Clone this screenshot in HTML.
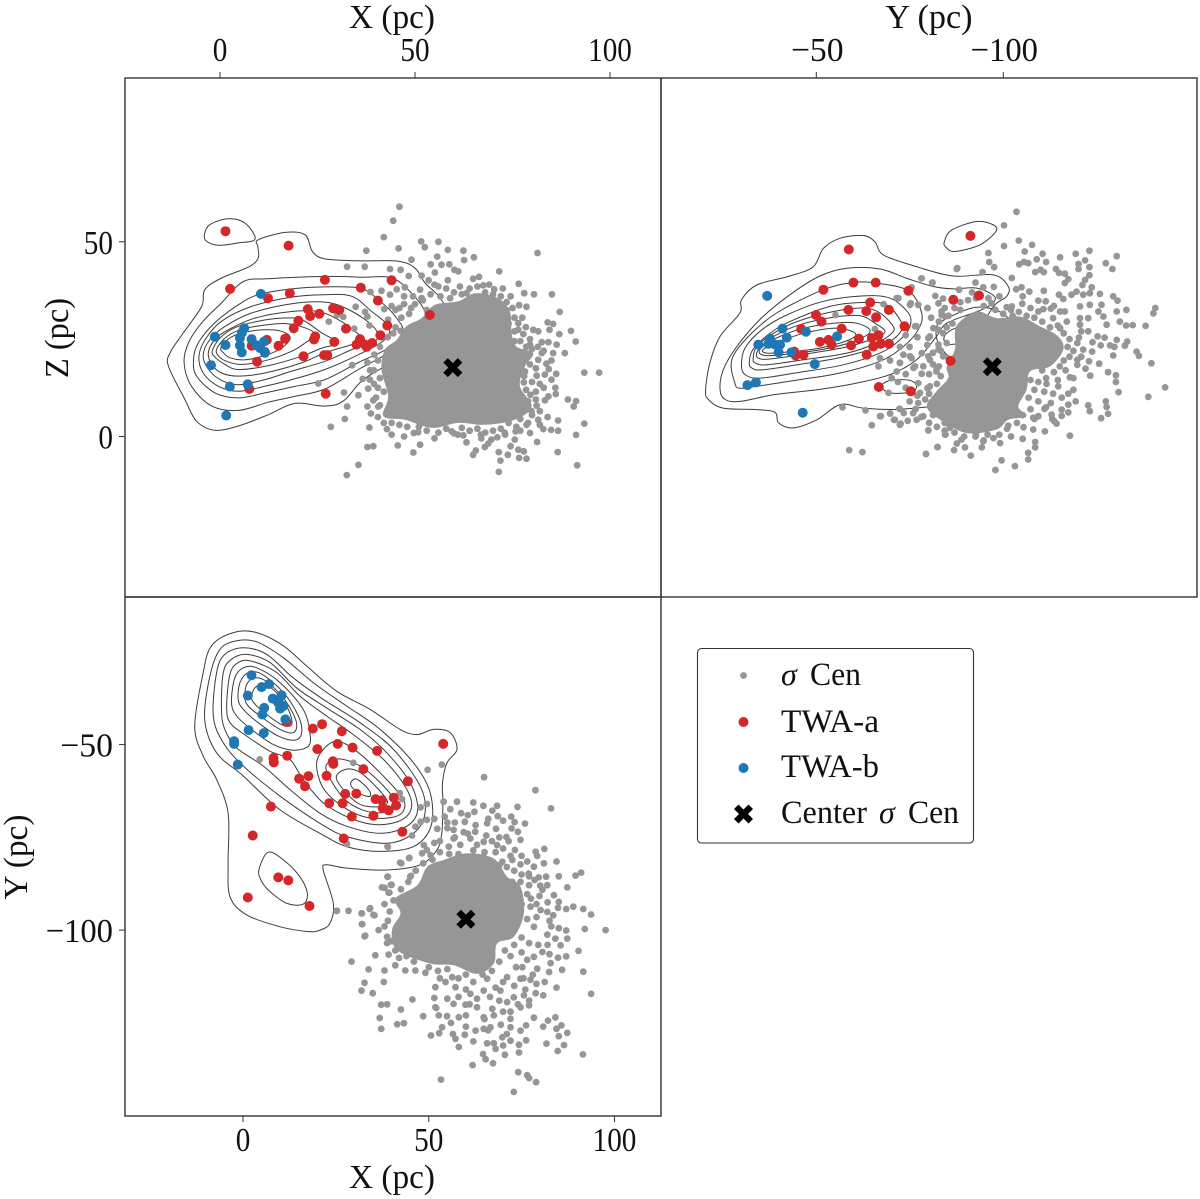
<!DOCTYPE html>
<html lang="en">
<head>
<meta charset="utf-8">
<title>TWA and sigma Cen positions</title>
<style>
html,body{margin:0;padding:0;background:#fff;}
svg{display:block;}
text{font-family:"Liberation Serif","DejaVu Serif",serif;fill:#111;}
</style>
</head>
<body>
<svg id="chart" xmlns="http://www.w3.org/2000/svg" width="1200" height="1199" viewBox="0 0 1200 1199">
  <rect x="0" y="0" width="1200" height="1199" fill="#fff"/>
  <g id="panel-a"></g>
  <g id="panel-b"></g>
  <g id="panel-c"></g>
  <rect x="125" y="78" width="536" height="519" fill="none" stroke="#333" stroke-width="1.4"/>
  <rect x="661" y="78" width="536" height="519" fill="none" stroke="#333" stroke-width="1.4"/>
  <rect x="125" y="597" width="536" height="519" fill="none" stroke="#333" stroke-width="1.4"/>
  <g id="ticks"></g>
  <text x="392" y="28" font-size="34" text-anchor="middle" textLength="86" lengthAdjust="spacingAndGlyphs">X (pc)</text>
  <text x="929" y="28" font-size="34" text-anchor="middle" textLength="87" lengthAdjust="spacingAndGlyphs">Y (pc)</text>
  <text x="392" y="1188" font-size="34" text-anchor="middle" textLength="86" lengthAdjust="spacingAndGlyphs">X (pc)</text>
  <text transform="translate(68,338) rotate(-90)" font-size="34" text-anchor="middle" textLength="80" lengthAdjust="spacingAndGlyphs">Z (pc)</text>
  <text transform="translate(27,857) rotate(-90)" font-size="34" text-anchor="middle" textLength="85" lengthAdjust="spacingAndGlyphs">Y (pc)</text>
  <g>
    <rect x="697.5" y="648.5" width="276" height="194.5" rx="4" fill="#fff" stroke="#333" stroke-width="1.1"/>
    <circle cx="743.5" cy="675.5" r="3.4" fill="#969696"/>
    <circle cx="743.5" cy="722" r="5" fill="#d62728"/>
    <circle cx="743.5" cy="768" r="5" fill="#1f77b4"/>
    <path transform="translate(743.5,814)" d="M-9.5,-5L-5,-9.5L0,-4.5L5,-9.5L9.5,-5L4.5,0L9.5,5L5,9.5L0,4.5L-5,9.5L-9.5,5L-4.5,0Z" fill="#000"/>
    <text x="781" y="685" font-size="32" font-style="italic">σ</text>
    <text x="810" y="685" font-size="33" textLength="51" lengthAdjust="spacingAndGlyphs">Cen</text>
    <text x="781" y="732" font-size="33" textLength="98" lengthAdjust="spacingAndGlyphs">TWA-a</text>
    <text x="781" y="777" font-size="33" textLength="98" lengthAdjust="spacingAndGlyphs">TWA-b</text>
    <text x="781" y="823" font-size="33" textLength="86" lengthAdjust="spacingAndGlyphs">Center</text>
    <text x="879" y="823" font-size="32" font-style="italic">σ</text>
    <text x="908" y="823" font-size="33" textLength="51" lengthAdjust="spacingAndGlyphs">Cen</text>
  </g>
</svg>
<script>
/* Tick values and labels */
const xTicksTop = [0, 50, 100];
const xTickLabelsTop = ['0', '50', '100'];
const yTicksTop = [-50, -100];
const yTickLabelsTop = ['−50', '−100'];
const zTicks = [50, 0];
const zTickLabels = ['50', '0'];
const xTicksBottom = [0, 50, 100];
const xTickLabelsBottom = ['0', '50', '100'];
const yTicksLeft = [-50, -100];
const yTickLabelsLeft = ['−50', '−100'];

/* Panel X-Z: stars as [X, Z] in pc */
const centerXZ = [59.7, 17.7];
const twaAXZ = [[1.4,52.7],[17.6,49],[2.6,37.9],[26.9,40.2],[36.1,38.2],[12.3,35.5],[17.9,36.8],[40.5,34.9],[44,40.1],[22.5,32.7],[29,32.9],[30.6,32.5],[23.1,30.9],[25.5,31.5],[20.1,29.7],[18.9,27.8],[32.3,27.7],[42.9,28.5],[41.1,26],[24.4,25.7],[24.1,24.9],[29.3,24.3],[35.9,25],[35,23.6],[37.2,23.6],[37.6,23],[39,24],[16.7,25.1],[15,23.3],[12,24.8],[8.1,23.3],[11.5,21.7],[9.5,19.2],[21.4,20.6],[26.7,20.9],[27.5,20.9],[7.5,12.2],[27.1,11],[53.8,31.2]];
const twaBXZ = [[10.5,36.6],[-1.3,25.6],[1.4,23.5],[-2.3,18.3],[2.5,12.8],[7.1,13.4],[1.6,5.4],[6.2,27.8],[5.6,26.6],[5.1,25.3],[5.1,23.4],[5.6,21.6],[8.1,25],[9.4,23.4],[11.3,24.4],[10.3,22.7],[11.5,21.5]];
const sigmaCenXZ = [[46,59],[44.4,55.4],[42,51.2],[37.5,47.7],[45.8,48.3],[51.6,50.1],[56,50],[52.5,48.6],[58.4,47.9],[62.4,47.7],[81.4,47.1],[49.1,45.4],[55.7,46.2],[62.6,45.3],[65.1,46],[56.8,44.1],[54,44.2],[58.8,44.2],[32.6,43.6],[37.1,43.6],[43.6,43],[46.3,42.8],[55.1,42.1],[60.1,42.8],[61.1,42.4],[71.6,42.4],[48.4,41.2],[51.7,41.3],[53.5,40.1],[58.4,40.1],[64.9,40.5],[66.4,41],[67.5,38.8],[76.6,39.2],[61.5,38.5],[70.3,37.8],[78,36.8],[80.5,36.5],[85.1,36.5],[47.4,38.3],[51.3,37.7],[45.3,37.8],[38.6,37.1],[41.4,37.4],[43.6,36.4],[47.2,36],[51.7,35.5],[63.2,36.8],[76.7,33.7],[78.6,33.3],[87.1,32],[73.5,32.4],[34.8,33.3],[37.2,32],[37.8,30.8],[42.1,32.7],[45,32.5],[47.2,34],[49,33],[76.5,29.1],[78.4,28.1],[84,29.3],[85.4,28.9],[84.5,27.4],[90,27.1],[87,26.3],[81.6,27],[80.3,27.4],[77.8,26.3],[91.2,24.4],[76.5,27.4],[27.9,29.5],[31.6,30.7],[38.3,28.5],[43.1,30],[44.4,26.5],[46.3,27.1],[34.4,27.7],[30,31.2],[79.5,23.6],[82.5,24.2],[84.2,24.2],[86.3,23.6],[88.4,21.4],[85.4,21.4],[82.5,21.4],[79,20.6],[81.6,19.7],[83.7,18.7],[84.3,17.3],[86.2,16.1],[83.3,15.9],[85,14.6],[81.2,15.6],[77.9,13.9],[78.2,16.7],[93.4,16.4],[97.2,16.4],[79.6,10.7],[86.1,10.9],[83.3,9.3],[84.2,10.3],[89.2,9.5],[91.3,9.1],[90.7,7.7],[81.2,7.9],[79.9,6.5],[84,5],[86.7,4.1],[93.4,3.3],[81.6,4.3],[82.9,1.9],[84.9,1.7],[86.7,1.5],[91.3,0.4],[79.5,0.9],[81.3,-1.4],[86.6,-4],[91.6,-7.4],[78.6,3],[75.6,-0.8],[74.5,-2.5],[76.5,-3.4],[77.9,-3.8],[78.6,-5.7],[76.7,-5.5],[73.8,-4.7],[71.5,-4],[71.9,-6.2],[71.5,-9.1],[64.9,-4.7],[65.6,-3.6],[63.2,-1.5],[67.9,-2.7],[68.8,-1.8],[69.6,-0.8],[71.1,-0.2],[73.1,0.5],[75.8,1.3],[62.4,0.3],[66.9,0.5],[59.4,1.3],[49.7,0.9],[50.8,1.1],[47.2,0],[42.8,1.9],[38.3,2.3],[32,4.5],[28.4,2.5],[32.6,7.7],[31.8,11.3],[35.5,10.6],[38,12.3],[39.3,9.3],[37.8,7.7],[40.6,7.7],[38.7,5.9],[45.6,-2.3],[51.3,-2.1],[49.6,-4.1],[37.8,-2.7],[39.3,-2.5],[35.5,-7.3],[32.5,-9.9],[36.6,14.8],[38.4,14.6],[33.9,18.3],[37.8,19],[39.6,21],[25.2,13.6]];
const sigmaCenEdgeXZ = [[75.5,27],[77,24.5],[78.5,23],[76.5,21.5],[80,22.5],[81.5,23],[83,22],[77,19.5],[79.5,18.5],[81,17.5],[76.5,17],[78,15.5],[80,14],[82,13.5],[76,13],[78.5,12],[81,11.5],[83,12.5],[77,10],[79,9],[81,9.5],[76,8],[78,7],[80,5.5],[82,6.5],[75,6],[77,4.5],[79,3.5],[74,3.5],[76,2.5],[72,2],[70,1.5],[73,1],[68,1],[66,2],[64,1.5],[62,2.2],[60,0.8],[58,2],[56,1],[53,1.5],[51,2.5],[48,2.5],[46,3],[44,3.5],[42,3.5],[40.5,5],[41,8],[42,11.5],[40.5,12.5],[41,15],[39.5,17],[40.5,19.5],[41,23],[43,25.5],[45,28],[46.5,30.5],[48.5,31.5],[50,34],[52,35],[54,36.5],[56.5,36],[58,38],[60,37],[62,36.5],[64,38],[66,38.5],[68,37],[70,36.5],[72,36],[73.5,34.5],[75,33],[75.5,30.5],[53,32.5],[56,38.5],[59,35.5],[65,35],[69,39],[72.5,38],[74.5,36],[74,29],[77.5,30.5],[79.5,25],[75.5,24.5],[85,19.5],[86,12.5],[82,3],[77,1.5],[67,-0.5],[61,0.5],[55,-0.5],[44,0.5],[39.5,13.5],[40,10],[38.5,17],[41.5,25.5],[44,33.5],[46,33],[49.5,36],[55,39]];
const denseCoreXZ = [[42.3,22.3],[45.3,24.8],[47.8,28.3],[51.7,30.4],[55.1,33.8],[61.1,34.7],[65.4,36.8],[71.3,35.5],[74.3,32.1],[74.8,26.5],[76,23.1],[80.3,21.4],[78.2,18],[76.9,12.9],[79.9,7.7],[75.6,4.3],[67.9,3],[61.1,3.5],[54.3,2.2],[47.4,4.3],[41.9,5.2],[43.1,10.3],[41.4,17.1]];
const contoursXZ = [
 [[-4,51.8],[-2.6,54.4],[2.1,55.9],[6.4,54.8],[9,50.7],[4.7,49.7],[-0.4,49.1],[-3.4,50.1]],
 [[9.8,50.5],[16.7,52.4],[21.8,51.8],[23.7,47.5],[26.9,45.6],[35.5,45.1],[45.7,45],[50,43.2],[52.6,39.4],[56.4,35.6],[59,29.6],[52.6,23.2],[42.3,18],[36.3,14.2],[31.6,9.1],[26.9,7.8],[19.2,8.5],[12.4,5.6],[4.7,2.7],[-1.3,1.6],[-6,3.9],[-9,9.5],[-13.2,18],[-12.8,21.5],[-9.4,26.6],[-4.7,33.4],[-3.9,37.7],[0.4,40.7],[7.3,43.5],[9.8,45.8],[9.7,48.8]],
 [[6,39.8],[12.4,40.5],[26.9,41.1],[36.3,40.9],[44,40.7],[49.1,36.8],[52.6,31.7],[50.8,27.4],[43.2,21.5],[35.5,17.2],[26.9,12.2],[19.2,10.3],[12.4,8.8],[4.7,6.7],[-2.1,7.8],[-7.3,12.9],[-9.2,18.9],[-8.1,24],[-4.7,29.2],[0.4,34.3]],
 [[9.8,36.4],[18.4,37.9],[26.9,38.4],[35.9,38.1],[40.6,35.1],[44.9,30.9],[47,26.6],[43.2,22.7],[35.5,19],[26.9,14.6],[18.4,12.7],[11.5,11.2],[4.7,9.9],[-1.3,11.2],[-6,15.5],[-6.8,19.7],[-5.6,24],[-1.3,29.2],[4.7,33.8]],
 [[-5.4,20.6],[-3.8,24.9],[0.4,29.6],[8.1,33.4],[18.4,35.8],[26.9,36.4],[33.8,36],[38.9,32.1],[43.2,28.3],[42.3,24.9],[35.5,21],[26.9,17.2],[18.4,14.6],[11.5,12.9],[4.7,11.6],[-0.4,12.9],[-4.3,16.3]],
 [[-4.3,21],[-2.6,24.9],[1.3,28.3],[8.1,31.7],[18.4,34.1],[26.9,34.5],[32.1,33],[37.2,30],[40.2,27],[39.7,24.4],[33.8,22.3],[26.9,19.3],[18.4,16.8],[11.5,14.6],[4.7,13.3],[0,14.6],[-3.2,17.6]],
 [[-3,21.5],[-1.3,24.9],[2.1,27.4],[9,30.4],[18.4,32.1],[25.2,32.1],[30.3,30],[34.6,27],[36.7,24.9],[33.8,23.6],[26.9,21.5],[20.9,18.9],[11.5,16.3],[4.7,15.5],[0.4,16.3],[-2.1,18.5]],
 [[-2,21.9],[0,25.3],[3.8,27.9],[9.8,29.6],[15.8,30.4],[20.9,30],[26.1,26.6],[30.3,24],[26.1,22.7],[20.9,20.6],[12.4,18.2],[4.7,17.2],[1.3,18.5],[-1.1,20.2]],
 [[-0.9,22.3],[1.3,25.3],[5.1,27.4],[10.7,28.5],[16.7,29],[21.8,27.9],[24.4,26.2],[21.8,24],[18.4,21.9],[12.4,19.7],[5.6,18.5],[1.7,19.3],[-0.3,20.6]],
 [[0.2,22.7],[2.1,25],[5.6,26.6],[11.5,27.4],[15.8,27],[18,25.3],[15.8,22.7],[11.5,20.8],[6.4,19.7],[2.6,20.2],[0.9,21.5]]
];

/* Panel Y-Z: stars as [u, Z]; u is the horizontal reading, converted to Y by yFromReading */
const centerYZ = [95.2, 17.9];
const twaAYZ = [[58.4,48],[51.9,37.7],[59.6,39.5],[65.3,39.5],[73.7,37.4],[63.9,34.4],[68.7,32.5],[58.3,32.5],[62.9,32.2],[65.4,30.6],[50,31.2],[51.4,29.5],[72.7,28.3],[56.6,27.7],[46.2,27.6],[61,25.1],[51,24.3],[53.2,24.8],[54,23.6],[59,23.4],[64.3,25.3],[66,26],[64.7,23.1],[66.6,23.8],[68.7,23.8],[63,21],[44.8,20.8],[46.8,21],[44.4,21.8],[66.1,12.7],[74.3,11.6],[84.5,19.4],[89.6,51.5],[85.2,35.1],[91.8,36.2]];
const twaBYZ = [[37.5,36.1],[41.4,27.7],[47.4,26.9],[55.4,25.7],[42.5,25.4],[35.2,23.6],[38.2,25.1],[37.8,23.8],[39.5,23.6],[40.8,23.6],[40.4,21.6],[43.7,21.6],[49.7,18.6],[32.4,13.2],[34.6,13.9],[46.6,6.1]];
const sigmaCenYZ = [[101.4,57.7],[98.2,54.2],[102,50.3],[98.2,48.9],[105.4,49.2],[103.5,47.5],[94.2,47.1],[108.1,46.9],[112.6,46],[116.6,46.9],[120.1,47.7],[127.1,46.3],[124.3,44.5],[126,43],[119,45.2],[117.3,44.3],[120.1,43.5],[117.3,43],[106.6,45.5],[109,44.8],[103.3,44.8],[102.1,44.2],[104.4,44.5],[94.4,44.8],[95.7,43.5],[86.2,43.2],[92.7,42.2],[106.2,42.2],[107.6,42.8],[108.4,42.2],[111.5,43],[112.3,42],[113.8,41.8],[114.7,40.4],[113.8,39.4],[120.1,41.4],[119,40.2],[118.3,38.9],[100.2,40.7],[77,40.6],[79.9,39.5],[90.9,39.5],[95.6,38.4],[86.7,37.7],[92.9,38.3],[101.3,37.8],[102.7,38.3],[104.7,37.2],[108.4,37.4],[112.3,36.4],[113.4,35.3],[120.7,38.3],[116.8,37.2],[115.5,36.4],[118.5,36.4],[122.8,36.6],[126.2,36],[127.3,34.9],[120.2,36.8],[107,34.9],[108.9,34.7],[102.9,34.1],[80.6,36.1],[82.6,35.4],[78.6,33],[81.4,34.2],[82.2,32.1],[83.1,30.8],[94.2,35.5],[95,34.2],[98.9,33.2],[100.2,33.4],[108.3,32.7],[107,32.1],[110.2,32.8],[113.8,32.1],[112.6,32.1],[117.7,33.4],[120.2,33.8],[123.2,33.8],[122.4,32.1],[127.1,32.1],[129.6,32.5],[137,33],[136.5,31.6],[100.4,31],[110.8,30.4],[114.3,29.5],[117.7,30.4],[119.8,30.4],[123.7,30.8],[127.9,29.5],[129.5,28.5],[131.2,28.6],[134.5,28.4],[117.7,28.7],[119.8,27],[124.5,28.7],[112.6,27.8],[117.4,25.4],[122.2,25.7],[124,25.4],[127.1,24.8],[129.8,24.4],[129.2,23.3],[120.9,24.2],[123,23.4],[125.4,23.4],[126.5,23],[132.2,21.8],[132.8,20.7],[126.2,20.8],[118.5,22.3],[120.8,21.8],[117,19.7],[117,18.4],[120,19.3],[122.6,18.7],[119.1,17.4],[124.9,16.5],[126.9,15.7],[126.9,14],[120.3,15.6],[115.1,15.2],[136,18.8],[139.5,12.6],[135.2,10.2],[127.6,11.4],[116.6,9],[124.3,9],[119.8,8],[124.5,7.6],[120.2,6.5],[124.9,5.8],[123.1,4.7],[114.7,8.2],[113,6.9],[114.7,6.2],[113,5.3],[110.4,5.6],[110.6,4.5],[111.7,3.3],[107,5.2],[105.7,4.8],[115.1,0.2],[108.6,7.1],[110.2,8.6],[109.1,13.5],[112.1,12.9],[114.7,11],[110.8,11],[108.7,1.3],[105.7,1.8],[103.2,2.4],[99.3,2.8],[103,-0.6],[106.2,-1.4],[106.2,-2.8],[104.4,-4.2],[104.4,-5.9],[101,-7.6],[97.6,-6.1],[96,-8.6],[97.2,-1.7],[95.5,-0.4],[92.5,-2.8],[92.9,-1.2],[90.9,0],[89.7,-4.9],[88.2,-2.8],[85.4,-3.5],[86.1,-1.8],[87.3,-0.8],[81.2,-2.7],[78.2,-4.5],[78.8,1.6],[83.1,0.5],[84.3,2.2],[71.5,3],[70.2,4.3],[74.9,6],[75.8,4.3],[71.4,7.1],[69,5.9],[66.4,5.2],[80.9,16.7],[78.6,12.4],[76.2,13.7],[77.1,16.1],[75.4,18],[71.5,18.9],[74.5,20.1],[72.4,21],[77.1,21.4],[79.2,19.7],[82.6,20.6],[78.8,25.3],[81.4,23.6],[82.6,26.5],[80.1,27.8],[75.4,28.3],[76.2,33.8],[74.1,33.8],[71.1,35.5],[56.8,7.5],[62.7,6.7],[66.6,5.2],[64.3,2.9],[69,5.9],[71.4,7.1],[70,4.3],[71.7,3.3],[58.5,-3.5],[61.9,-4],[78.2,-4.5],[81.1,-2.7],[55,31.2],[67.3,34],[70.7,35.5],[74.3,34.2],[76.2,33.8],[78.6,33],[77.1,40.6],[79.8,39.5],[86.1,43],[74.5,38.3],[65.1,27.6],[66.4,20.1],[66,18],[69,19.5],[71.5,18.9],[70.7,16.7],[74.1,20.6],[75,17.6],[69.4,15],[75.8,28.3],[79.2,25.7],[81.4,27.4],[82.2,31.2],[77.5,18],[80.9,17.1],[78.8,20.6],[81.4,22.3],[76.7,11.2],[79.2,12.9],[83.5,12],[76.2,8.6],[77.5,5.2],[80.1,7.7],[83.5,3.5],[78.8,1.6],[83.2,0.5],[68.6,11.2]];
const sigmaCenEdgeYZ = [[84,31],[85.5,33],[87,34.5],[89,35],[91,35.5],[93,33.5],[96,32.5],[98,31.5],[100,32.5],[102,32],[104,31],[106,30.5],[108,29.5],[110,28],[112,28.5],[113.5,26.5],[115,25],[114.5,23],[116,22],[115,20.5],[113.5,19.5],[112.5,18],[111,16.5],[114,17],[116,15],[112,14.5],[109,15],[107,14],[105,14.5],[106,12],[108.5,11.5],[104.5,10],[107,9],[109,7.5],[105,7],[103,5.5],[106,4.5],[101.5,3.5],[99,2],[97,0.5],[94,0.5],[91,0.5],[88,0],[85.5,1],[83,1.5],[81,2.5],[79,3.5],[77,5],[75.5,7],[78,9.5],[76,10.5],[74,9],[72.5,6],[73.5,4],[80.5,9.5],[79,11],[81,13.5],[82,15.5],[80,18.5],[79,16],[81.5,18],[82,22],[83.5,24],[80,21.5],[78.5,23.5],[83.5,28],[81.5,29.5],[79.5,30.5],[83,33],[85,29],[84,20],[76,25.5],[74,23],[73,26],[71.5,23],[73,16],[71,14],[73,12.5],[117,24],[118,27],[111,33.5],[105,33],[103,36],[97,36],[90,37],[87,32.5],[110,20],[108,17],[103,15],[102,12.5],[118,20.5],[116,12],[113,10],[111,4],[100,0],[93,-1],[83,3.5],[80,5.5],[82,6.5],[84,4.5]];
const denseCoreYZ = [[86.5,29.1],[91.2,32.1],[96.3,30.4],[102.3,30.8],[107.4,28.3],[112.1,25.7],[113.4,22.3],[110,18],[104.9,16.7],[104,12],[101.9,7.7],[104,5.2],[99.3,4.3],[96.3,1.8],[88.6,0.9],[81.8,4.3],[78.4,7.7],[80.9,11.6],[83.9,15],[83.5,18],[85.6,22.3],[85.6,26.5]];
const contoursYZ = [
 [[82.9,50],[84.8,53],[91.2,55.2],[95.5,54.3],[96.1,52.6],[92,49.2],[85.6,47.5],[83.3,48.6]],
 [[21.7,12],[22.8,18.9],[25.4,25.7],[30.5,31.7],[30.9,35.1],[34.8,38.9],[43.3,41.2],[49.3,43.6],[51.9,48.3],[56.2,50.9],[62.1,51.6],[65.1,50],[67.3,46.6],[75.8,43.6],[85.2,41.2],[95.5,41.5],[99.3,38.5],[98.9,36],[95.9,33.8],[92.9,29.1],[90.3,23.1],[86.1,12],[84.4,8.6],[71.5,7],[62.1,7.3],[56.2,8.2],[50.2,4.3],[44.2,2.2],[40.4,3.5],[39.5,6.2],[34.8,6.9],[26.2,7.3],[22.4,9.5]],
 [[25.4,12],[26.2,17.1],[29.7,23.1],[35.6,30],[43.3,36.4],[51,41.2],[57.9,43.2],[66.4,43],[73.3,40.6],[80.1,38.5],[85.2,37.9],[91.2,38.1],[95.9,35.8],[94.2,33.4],[90.3,31.7],[83.5,29.1],[80.9,25.7],[75.8,19.7],[69,15.9],[60.4,13.7],[50.2,12],[39.1,10.7],[30.5,9],[26.7,9.5]],
 [[29.2,13.7],[28.4,19.7],[32.7,25.7],[39.9,31.7],[51.9,37.7],[59.6,39.5],[65.3,39.4],[73.7,37.4],[77.1,31.7],[76.2,27.4],[72.4,23.1],[66.4,19.3],[56.2,16.3],[45.9,14.6],[34.8,12.9],[30.5,12.4]],
 [[30.9,18.4],[31.8,22.7],[36.1,27.4],[42.5,31.2],[51.9,34.7],[62.1,36.1],[69,35.5],[73.7,31.7],[74.1,28.3],[71.5,24.8],[66.4,21.4],[57,18.4],[45.9,16.5],[35.7,15],[31.8,15.9]],
 [[32.9,18.9],[33.8,22.3],[38.2,26.5],[43.3,29.5],[53.6,33.4],[62.1,34.4],[68.1,33.8],[71.5,30],[72,27.4],[69,24.4],[63.9,22.3],[55.3,20.1],[45.1,18.4],[36.1,17.1],[33.5,17.6]],
 [[33.9,20.1],[34.8,23.1],[39.1,26.5],[45.1,29.5],[54.5,32.1],[62.1,33],[66.4,31.7],[69.8,28.3],[69.4,26.5],[65.6,24],[57.9,21.4],[46.8,19.7],[37.4,18.4],[34.4,18.9]],
 [[34.8,21.4],[36.1,23.3],[39.9,26.1],[45.9,28.7],[54.5,30.6],[61.3,31],[65.1,29.1],[67.7,27],[65.1,25.3],[57.9,23],[47.6,21.2],[38.2,19.9],[35.2,20.1]],
 [[35.6,22.3],[39.9,25.3],[46.8,27.8],[54.5,29.1],[60.4,29.1],[63.9,27],[59.6,24.4],[51.9,22.4],[43.3,21.2],[36.9,20.8]],
 [[36.5,22.4],[40.8,24.4],[46.8,26.5],[54.5,27.8],[59.2,27],[60,25.7],[56.2,24],[49.3,22.4],[42.5,21.7],[37.4,21.4]],
 [[66.8,12.9],[69,14.4],[74.1,14.4],[75.8,12.9],[74.3,11.4],[69,11.2]],
 [[80.9,27.8],[82.6,29.8],[91.2,33.2],[98.9,30.8],[102.3,23.1],[94.6,15.4],[85.2,19.7],[81.4,24]],
 [[82.8,25.3],[84.8,27.4],[91.2,29.5],[97.2,28.3],[99.7,23.1],[94.6,18],[86.9,23.3],[83.9,23.6]]
];

/* Panel X-Y: stars as [X, Y] in pc */
const centerXY = [60, -97.1];
const twaAXY = [[53.9,-49.8],[21.3,-44.5],[18.8,-45.7],[26.6,-46.4],[25.5,-49.8],[29.5,-50.8],[36.1,-51.7],[20,-51.2],[11.9,-53],[8.2,-53.6],[8.3,-54.8],[24.2,-54.5],[24.3,-55.2],[32.4,-56.6],[22.5,-58.4],[17.6,-58.5],[15.1,-59.2],[16.7,-61.2],[44.4,-59.9],[27.5,-63.3],[30.5,-63.2],[26.8,-65.8],[23.2,-65.8],[35.7,-64.7],[37.4,-65],[40.6,-64.3],[41.2,-66.4],[37.6,-67.1],[39.2,-67.7],[29.3,-69.4],[35.1,-69.2],[42.9,-73.5],[27.1,-75.3],[7.5,-66.7],[2.6,-74.5],[9.5,-85.8],[12.2,-86.6],[1.3,-91.2],[17.9,-93.5],[11.7,-43.9]];
const twaBXY = [[2.3,-31.3],[5,-34.5],[7,-33.7],[1.3,-36.8],[10.4,-36.7],[8,-37.6],[9.5,-38.7],[10.9,-39.6],[10,-40.3],[5.7,-40.1],[5.2,-41.9],[11.4,-43.2],[1.5,-46.1],[5.6,-46.9],[-2.4,-49.1],[-2.4,-49.8],[-1.4,-55.4]];
const sigmaCenXY = [[64.9,-58.8],[78.7,-62.3],[82.9,-67.2],[73.9,-66.8],[68.4,-66.5],[68.6,-69.3],[67.1,-67.8],[64.7,-66.5],[62,-65.6],[62.3,-68.1],[57.6,-65.4],[55.8,-67.4],[54,-65.4],[58.7,-68.5],[59.7,-70.8],[54.3,-69.4],[57,-71],[62.6,-71.7],[65.7,-71.2],[68.1,-72.7],[72.2,-69.4],[73.1,-70.9],[75.9,-71.3],[72.3,-72.6],[70.9,-74.9],[56.7,-73],[59.4,-73.6],[74.7,-75.7],[73.2,-78.4],[81.1,-78.1],[78.8,-78.9],[79.2,-80],[84.4,-81.5],[81,-82],[78.3,-82.9],[74.7,-82.3],[72.5,-81.1],[69.8,-81.6],[89.5,-85.3],[91,-84.5],[85,-85.5],[81.6,-85.6],[79.6,-85.8],[76.9,-84.8],[87.3,-88.5],[81.9,-87.9],[80.6,-89.1],[83.7,-90.6],[85,-92.4],[77,-87.9],[74.7,-87],[76.5,-90.3],[79.8,-90.8],[77.4,-93.7],[80.1,-94.6],[81.9,-95.1],[83.5,-96],[84.8,-94],[87,-94.3],[88.9,-93.7],[91.6,-94.3],[93.7,-95.8],[97.6,-100],[92,-99.7],[87,-100.1],[81.9,-101.2],[78.3,-99.1],[87.3,-102.3],[84.1,-102.3],[85.5,-104.1],[90.3,-105.6],[87,-107.1],[84.8,-107.4],[82.8,-108.9],[80.6,-105.9],[78.3,-107.2],[79.2,-110.4],[82.4,-111.3],[85.9,-110.7],[91.6,-111.2],[84.4,-115.5],[93.7,-117.2],[81.2,-114],[80.8,-117.6],[78.8,-117],[77,-119],[75.6,-117.6],[72.9,-118.1],[74.7,-113.1],[77.4,-113.4],[75.2,-110],[77,-120.3],[74.7,-120.8],[78.3,-123.6],[84.1,-123.5],[82.1,-124.4],[80.8,-126],[84.4,-126.6],[85.7,-125.7],[87.3,-127.7],[85,-128.6],[86.4,-131],[84.7,-132.6],[81.7,-130.6],[91.5,-133.5],[76.2,-125.7],[74.7,-127.1],[76.2,-129.7],[74.3,-130.9],[74.3,-133],[72,-129.8],[69.8,-128.9],[70,-131.1],[70.5,-133.6],[67.5,-130.5],[65.7,-130.5],[64.6,-133.4],[65.3,-134.8],[67.3,-135.9],[61.8,-136.4],[74.1,-138.3],[76.5,-139.1],[77,-139.9],[78.9,-141],[72.9,-143.6],[53.3,-140.3],[58.1,-131.5],[57.2,-129.3],[59.7,-128.2],[56.5,-128],[50.6,-128.4],[52.8,-127.8],[53.6,-126.2],[62.6,-127.1],[64.8,-126.6],[66.6,-126.2],[69.4,-125.5],[72,-126.2],[72,-123.9],[64.8,-123.5],[60,-123],[58.1,-123.5],[54.9,-123.2],[52.7,-123],[51.8,-120.8],[51.5,-118.3],[48.5,-123.2],[43.3,-125.1],[41.5,-125.4],[37.2,-126.6],[36.8,-123.7],[42.5,-121.4],[45.6,-118.7],[38.8,-120],[37.2,-120.1],[34.9,-117],[31.9,-116.3],[32.7,-114.2],[37.9,-114],[38.1,-110.9],[33.8,-110.6],[29.2,-108.5],[35.6,-106.8],[39.2,-106.6],[41,-109.5],[43.7,-110.9],[46.4,-110.9],[49.1,-111.5],[51.8,-115.4],[54.5,-114],[57.2,-115.4],[56.3,-112.7],[59.9,-120.1],[56.7,-119.9],[63,-120.8],[67.1,-121.2],[61.2,-117.2],[64.8,-116.3],[69.3,-116.3],[71.1,-119.4],[65.7,-113.1],[71.1,-112.7],[32.7,-101.7],[36.5,-100],[32,-98.4],[38.1,-99],[38.8,-101.8],[38.8,-103.5],[31.9,-95.5],[34.1,-94.3],[35.4,-96],[28.4,-94.8],[25.3,-94.8],[38.1,-93],[38.1,-88.6],[39.4,-89.9],[40,-87.8],[39,-85.6],[45.2,-85.4],[42.6,-82],[44.7,-80.6],[39,-77.6],[28,-76.8],[47.8,-66.9],[49.5,-66],[46.4,-72.1],[47.8,-70.8],[49.5,-70.3],[51.5,-70],[52.3,-72.7],[45.5,-74.5],[48.7,-77.1],[49.5,-78.4],[48.2,-79.3],[50.5,-79.8],[55.4,-77.5],[56.7,-75.3],[61.2,-75.3],[64.8,-76.2],[68.4,-77.1],[42.2,-63.1],[42.8,-64.7],[49.7,-56.8],[4.5,-54],[29.7,-54.9],[53.5,-55.4],[27.9,-76.7],[38.9,-77.5],[42.3,-81.8],[44.8,-80.5],[45,-85.6],[38.9,-85.6],[37.4,-88.5],[39.8,-87.8],[39.2,-89.9],[25.2,-94.8],[32,-95.5],[34.2,-94.1],[35.1,-95.9],[32.1,-98.4],[32.9,-101.5]];
const sigmaCenEdgeXY = [[55,-72.5],[57,-75],[58.5,-77],[60.5,-74],[62.5,-73.5],[63,-77],[65.5,-74.5],[67,-76],[69,-75],[70,-78],[71.5,-76],[72,-80],[68,-79],[65,-79],[62,-78.5],[58,-79.5],[55.5,-79.5],[53,-76],[53,-79],[51.5,-76.5],[51,-81],[48.5,-82],[46.5,-84],[44.5,-87],[42.5,-89],[40.5,-92],[39.5,-95],[39,-97.5],[40,-103],[41,-105.5],[42,-107.5],[44,-107],[46,-108.5],[47.5,-106.5],[50,-110],[52.5,-111],[55,-110.5],[53,-113],[58,-113],[60,-112],[62,-114],[64.5,-112],[67,-111],[69,-108.5],[70.5,-105.5],[72,-107],[73,-104],[75,-102],[77,-103.5],[75,-106],[73.5,-110],[70,-114],[68,-115.5],[66.5,-118],[63,-118.5],[60,-116],[58,-118],[55,-118.5],[52,-121],[61,-120],[65,-124],[67.5,-123],[70,-122],[73,-115],[75.5,-113],[78,-112],[76.5,-108],[79.5,-104],[82,-104],[83,-99],[79,-96.5],[76.5,-97],[75,-93],[77.5,-91.5],[79,-93],[77,-85.5],[75,-85],[73,-84],[71,-83],[69,-82.5],[72.5,-87],[82,-92.5],[80,-88],[78.5,-86.5],[75,-80],[76.5,-81.5],[74,-73.5],[70,-70.5],[66,-70],[60.5,-69],[55,-71],[82.5,-106.5],[85,-99.5],[82.5,-97.5],[74,-120],[69,-119],[72,-122],[76,-116],[79,-114.5],[66,-127],[71,-128],[60,-126],[56,-125],[68,-132],[62,-130]];
const denseCoreXY = [[41,-91.5],[46.9,-87.9],[49.6,-82.9],[54,-81.1],[60.3,-79.3],[67.5,-80.7],[71.1,-85.6],[74.7,-88.3],[75.6,-95.5],[72.9,-101.8],[68.4,-103.6],[67.5,-109],[63,-111.8],[56.7,-109.5],[50.4,-109],[41.5,-105.4],[40.1,-100],[42.4,-95.5]];
const contoursXY = [
 [[4.4,-83.3],[6.8,-79],[10.9,-81.1],[15.3,-85.6],[17.3,-90.1],[16.2,-93],[11.8,-92.8],[6.8,-89.2],[4.6,-86]],
 [[-13,-45],[-10.7,-30.6],[-8.5,-23.4],[-2.6,-19.8],[3.7,-19.8],[10.9,-23.4],[17.1,-28.8],[25.2,-35.6],[34.2,-40.5],[42.3,-45.9],[46.8,-47.3],[51.3,-45.9],[55.8,-46.8],[57.6,-51.3],[54.9,-54.9],[53.7,-60.3],[53.8,-65.7],[53.5,-73.9],[52.2,-78.4],[47.7,-82.4],[38.7,-83.8],[27.9,-83.3],[22.5,-82.4],[21.6,-83.8],[24.3,-92.8],[23.4,-98.2],[20.7,-100],[17.6,-100.4],[10,-99.1],[1,-95.9],[-3.5,-91],[-4,-82],[-4,-68.5],[-7.1,-59.4],[-10.7,-53.1]],
 [[-10.3,-43.2],[-8.9,-31.5],[-6.2,-24.3],[-1.7,-22],[3.7,-22.3],[10.9,-26.6],[18.9,-33.3],[27.9,-39.6],[36.9,-45.9],[45.9,-54.9],[50.4,-63],[50.6,-72],[45.9,-77.5],[36.9,-78.8],[27.9,-77.5],[20.7,-73.9],[10,-67.6],[0.1,-58.5],[-7.1,-52.2]],
 [[-8,-42.3],[-7.1,-30.6],[-4.9,-25.7],[0.1,-23.9],[6.4,-25.7],[13.5,-32],[21.6,-37.8],[31.5,-44.1],[40.5,-51.3],[47.7,-61.2],[49,-68.5],[45.9,-73.9],[38.7,-76.6],[27.9,-74.8],[20.7,-71.2],[10,-63.9],[0.1,-55.8],[-5.3,-49.5]],
 [[-5.8,-40.5],[-5.3,-30.6],[-3.1,-27],[1,-25.7],[7.3,-27.9],[14.4,-34.7],[22.5,-40.1],[31.5,-45.9],[38.7,-52.2],[45,-60.3],[47,-67.6],[44.1,-72],[36.9,-73.9],[27.9,-72],[20.7,-68.5],[12.6,-62.1],[5.5,-55.8],[-1.7,-50.9],[-4.9,-45.9]],
 [[-4.4,-39.6],[-3.5,-31],[-1.3,-27.9],[2.3,-27.5],[9.1,-30.6],[15.3,-36.9],[22.5,-42.3],[29.7,-47.3],[37.8,-54],[43.6,-61.2],[45.4,-66.6],[42.7,-70.3],[36,-71.6],[28.8,-69.8],[21.6,-65.7],[16.2,-59.4],[12.6,-54],[7.3,-51.8],[1,-47.7],[-3.5,-44.1]],
 [[-3.1,-38.7],[-2.2,-32],[0.1,-29.3],[3.7,-29.3],[10,-33.3],[16.2,-40.5],[18,-46.8],[17.6,-50.4],[13.5,-51.5],[8.2,-50],[2.3,-45.9],[-1.7,-42.3]],
 [[-1.3,-37.8],[-0.8,-33.3],[1.4,-30.6],[5,-31],[10.9,-36],[14.9,-42.3],[15.8,-46.8],[14,-48.8],[9.5,-47.7],[4.1,-44.1],[0.1,-40.5]],
 [[0.5,-37.4],[1,-33.8],[3.2,-32],[6.8,-33.3],[11.8,-38.7],[14.4,-44.1],[13.5,-46.8],[10,-45.9],[4.6,-42.3],[1.4,-39.6]],
 [[2.3,-37.4],[3.2,-34.7],[5.5,-33.8],[8.6,-35.6],[12.2,-40.5],[13.1,-44.6],[10.4,-44.6],[6.4,-41.9],[3.5,-39.4]],
 [[19.8,-55.8],[21.2,-51.8],[25.2,-49.1],[30.6,-51.8],[37.8,-58.5],[43.2,-64.8],[42.7,-68.5],[38.7,-69.8],[32.4,-69.4],[26.1,-66.2],[21.6,-61.7]],
 [[22.5,-57.2],[23.4,-54.5],[27,-54],[32.4,-56.3],[38.7,-62.1],[41,-66.2],[37.8,-68.3],[32.4,-67.7],[27,-64.4]],
 [[25.2,-59.4],[27.5,-56.7],[31.5,-57.5],[36.5,-62.1],[38.9,-65.6],[36,-66.8],[30.6,-65.6]],
 [[29,-60.3],[30.6,-59.3],[33.8,-62.1],[34.2,-63.9],[32,-63.5],[29.7,-61.9]]
];

/* Axis functions: data value to pixel */
const xTop = x => 220 + 3.9 * x;
const zAxis = z => 436.5 - 3.895 * z;
const yTop = y => 629.3 - 3.74 * y;
const yFromReading = u => -(1.0428 * u - 2.22);
const xBottom = x => 243 + 3.715 * x;
const yLeft = y => 744.6 + (-50 - y) * 3.71;

const NS = 'http://www.w3.org/2000/svg';
const GREY = '#969696', RED = '#d62728', BLUE = '#1f77b4';
const X_MARK = 'M-9.5,-5L-5,-9.5L0,-4.5L5,-9.5L9.5,-5L4.5,0L9.5,5L5,9.5L0,4.5L-5,9.5L-9.5,5L-4.5,0Z';

function smoothClosed(pts) {
  const n = pts.length;
  let d = 'M' + pts[0][0].toFixed(1) + ',' + pts[0][1].toFixed(1);
  for (let i = 0; i < n; i++) {
    const p0 = pts[(i - 1 + n) % n], p1 = pts[i], p2 = pts[(i + 1) % n], p3 = pts[(i + 2) % n];
    const c1x = p1[0] + (p2[0] - p0[0]) / 6, c1y = p1[1] + (p2[1] - p0[1]) / 6;
    const c2x = p2[0] - (p3[0] - p1[0]) / 6, c2y = p2[1] - (p3[1] - p1[1]) / 6;
    d += 'C' + c1x.toFixed(1) + ',' + c1y.toFixed(1) + ' ' + c2x.toFixed(1) + ',' + c2y.toFixed(1) + ' ' + p2[0].toFixed(1) + ',' + p2[1].toFixed(1);
  }
  return d + 'Z';
}

function drawContour(parent, pts) {
  const el = document.createElementNS(NS, 'path');
  
  
  el.setAttribute('d', smoothClosed(pts));
  el.setAttribute('fill', 'none');
  el.setAttribute('stroke', '#3c3c3c');
  el.setAttribute('stroke-width', '1');
  parent.appendChild(el);
}

function drawCore(parent, pts) {
  const el = document.createElementNS(NS, 'path');
  
  
  el.setAttribute('d', smoothClosed(pts));
  el.setAttribute('fill', GREY);
  parent.appendChild(el);
}

function drawDot(parent, cx, cy, r, fill, name) {
  const el = document.createElementNS(NS, 'circle');
  
  
  el.setAttribute('cx', cx.toFixed(1));
  el.setAttribute('cy', cy.toFixed(1));
  el.setAttribute('r', r);
  el.setAttribute('fill', fill);
  parent.appendChild(el);
}

function drawCenter(parent, cx, cy) {
  const el = document.createElementNS(NS, 'path');
  
  
  el.setAttribute('d', X_MARK);
  el.setAttribute('transform', 'translate(' + cx.toFixed(1) + ',' + cy.toFixed(1) + ')');
  el.setAttribute('fill', '#000');
  parent.appendChild(el);
}

function drawPanel(id, fx, fy, contours, core, sigma, sigmaEdge, twaA, twaB, center) {
  const g = document.getElementById(id);
  const toPx = p => [fx(p[0]), fy(p[1])];
  contours.forEach(c => drawContour(g, c.map(toPx)));
  drawCore(g, core.map(toPx));
  sigma.concat(sigmaEdge).forEach(p => drawDot(g, fx(p[0]), fy(p[1]), 3.4, GREY, 'sigma-cen-point'));
  twaA.forEach(p => drawDot(g, fx(p[0]), fy(p[1]), 5, RED, 'twa-a-point'));
  twaB.forEach(p => drawDot(g, fx(p[0]), fy(p[1]), 5, BLUE, 'twa-b-point'));
  drawCenter(g, fx(center[0]), fy(center[1]));
}

drawPanel('panel-a', xTop, zAxis, contoursXZ, denseCoreXZ, sigmaCenXZ, sigmaCenEdgeXZ, twaAXZ, twaBXZ, centerXZ);
drawPanel('panel-b', u => yTop(yFromReading(u)), zAxis, contoursYZ, denseCoreYZ, sigmaCenYZ, sigmaCenEdgeYZ, twaAYZ, twaBYZ, centerYZ);
drawPanel('panel-c', xBottom, yLeft, contoursXY, denseCoreXY, sigmaCenXY, sigmaCenEdgeXY, twaAXY, twaBXY, centerXY);

const tickLayer = document.getElementById('ticks');

function drawTickLine(x1, y1, x2, y2) {
  const el = document.createElementNS(NS, 'line');
  
  
  el.setAttribute('x1', x1);
  el.setAttribute('y1', y1);
  el.setAttribute('x2', x2);
  el.setAttribute('y2', y2);
  el.setAttribute('stroke', '#333');
  el.setAttribute('stroke-width', '1');
  tickLayer.appendChild(el);
}

function drawTickLabel(label, x, y, anchor) {
  const el = document.createElementNS(NS, 'text');
  
  
  el.setAttribute('x', x);
  el.setAttribute('y', y);
  el.setAttribute('font-size', '34');
  el.setAttribute('text-anchor', anchor);
  const digits = label.replace('−', '').length;
  const width = digits * 14.6 + (label.indexOf('−') === 0 ? 23.5 : 0);
  el.setAttribute('textLength', width);
  el.setAttribute('lengthAdjust', 'spacingAndGlyphs');
  el.textContent = label;
  tickLayer.appendChild(el);
}

xTicksTop.forEach((v, i) => {
  const px = xTop(v);
  drawTickLine(px, 72, px, 78);
  drawTickLabel(xTickLabelsTop[i], px, 61, 'middle');
});
yTicksTop.forEach((v, i) => {
  const px = yTop(v);
  drawTickLine(px, 72, px, 78);
  drawTickLabel(yTickLabelsTop[i], px + 1, 61, 'middle');
});
zTicks.forEach((v, i) => {
  const py = zAxis(v);
  drawTickLine(119, py, 125, py);
  drawTickLabel(zTickLabels[i], 113, py + 12, 'end');
});
xTicksBottom.forEach((v, i) => {
  const px = xBottom(v);
  drawTickLine(px, 1116, px, 1122);
  drawTickLabel(xTickLabelsBottom[i], px, 1151, 'middle');
});
yTicksLeft.forEach((v, i) => {
  const py = yLeft(v);
  drawTickLine(119, py, 125, py);
  drawTickLabel(yTickLabelsLeft[i], 113, py + 12, 'end');
});
</script>
</body>
</html>
